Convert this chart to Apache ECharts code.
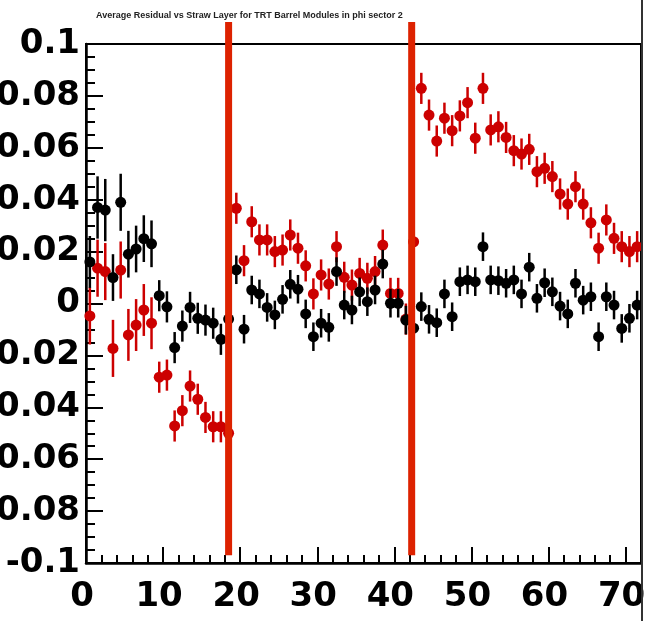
<!DOCTYPE html>
<html>
<head>
<meta charset="utf-8">
<script src="https://cdn.jsdelivr.net/npm/echarts@6/dist/echarts.min.js"></script>
<style>
html,body{margin:0;padding:0;background:#fff;}
#chart{width:646px;height:621px;}
</style>
</head>
<body>
<div id="chart"></div>
<script>
// ---- data ----
const titleText = 'Average Residual vs Straw Layer for TRT Barrel Modules in phi sector 2';
const blackValues = [
  0.016, 0.037, 0.036, 0.010, 0.039, 0.019, 0.021, 0.025, 0.023, 0.003,
  -0.0013, -0.017, -0.0087, -0.0015, -0.0057, -0.0064, -0.0076, -0.0138, -0.006, 0.013,
  -0.0099, 0.0052, 0.0037, -0.0015, -0.0044, 0.0016, 0.0074, 0.0055, -0.004, -0.0128,
  -0.0076, -0.0092, 0.0123, -0.0006, -0.0025, 0.0045, 0.0007, 0.0052, 0.0152, 0.0001,
  0.0001, -0.0064, -0.0095, -0.0012, -0.0061, -0.0074, 0.0037, -0.0051, 0.0084, 0.0091,
  0.0084, 0.0219, 0.0091, 0.0088, 0.0078, 0.0091, 0.0037, 0.014, 0.002, 0.008,
  0.0045, -0.001, -0.004, 0.0078, 0.0013, 0.0026, -0.0128, 0.0026, -0.0006, -0.0096,
  -0.0057, -0.0006
];
const blackErrors = [
  0.010, 0.012, 0.012, 0.009, 0.011, 0.009, 0.009, 0.009, 0.009, 0.006,
  0.006, 0.006, 0.006, 0.006, 0.006, 0.006, 0.006, 0.006, 0.006, 0.0055,
  0.0055, 0.0055, 0.0055, 0.0055, 0.0055, 0.0055, 0.0055, 0.0055, 0.0055, 0.0055,
  0.0055, 0.0055, 0.0055, 0.0055, 0.0055, 0.0055, 0.0055, 0.0055, 0.0055, 0.0055,
  0.0055, 0.0055, 0.0055, 0.0055, 0.0055, 0.0055, 0.0055, 0.0055, 0.0055, 0.0055,
  0.0055, 0.0055, 0.0055, 0.0055, 0.0055, 0.0055, 0.0055, 0.0055, 0.0055, 0.0055,
  0.0055, 0.0055, 0.0055, 0.0055, 0.0055, 0.0055, 0.0055, 0.0055, 0.0055, 0.0055,
  0.0055, 0.0055
];
const redValues = [
  -0.0048, 0.0136, 0.0123, -0.0173, 0.0129, -0.0121, -0.0083, -0.0025, -0.0076, -0.0284,
  -0.0276, -0.0472, -0.0413, -0.0318, -0.0369, -0.0439, -0.0475, -0.0475, -0.050, 0.0367,
  0.0165, 0.0315, 0.0245, 0.0245, 0.020, 0.0206, 0.0264, 0.0213, 0.0145, 0.0037,
  0.011, 0.0075, 0.0219, 0.0101, 0.0071, 0.0116, 0.0097, 0.0123, 0.0225, 0.0039,
  0.0039, -0.006, 0.0238, 0.0829, 0.0726, 0.0626, 0.0714, 0.0666, 0.0723, 0.0774,
  0.0637, 0.0829, 0.0669, 0.0681, 0.064, 0.0589, 0.0576, 0.0594, 0.0508, 0.0521,
  0.0489, 0.0422, 0.0383, 0.045, 0.0383, 0.0311, 0.0213, 0.0322, 0.0251, 0.0219,
  0.020, 0.0219
];
const redErrors = [
  0.011, 0.011, 0.011, 0.011, 0.011, 0.010, 0.010, 0.010, 0.010, 0.006,
  0.006, 0.006, 0.006, 0.006, 0.006, 0.006, 0.006, 0.006, 0.006, 0.006,
  0.006, 0.006, 0.006, 0.006, 0.006, 0.006, 0.006, 0.006, 0.006, 0.006,
  0.006, 0.006, 0.006, 0.006, 0.006, 0.006, 0.006, 0.006, 0.006, 0.006,
  0.006, 0.006, 0.006, 0.006, 0.006, 0.006, 0.006, 0.006, 0.006, 0.006,
  0.006, 0.006, 0.006, 0.006, 0.006, 0.006, 0.006, 0.006, 0.006, 0.006,
  0.006, 0.006, 0.006, 0.006, 0.006, 0.006, 0.006, 0.006, 0.006, 0.006,
  0.006, 0.006
];
const dividerX = [18.5, 42.25];
const dividerYRange = [-0.097, 0.1085];
const xTicks = { min: 0, max: 72, interval: 10 };
const yTicks = { min: -0.1, max: 0.1, interval: 0.02 };

// ---- build ----
function points(vals, errs) {
  return vals.map((v, i) => [i + 0.5, v, v - errs[i], v + errs[i]]);
}
function errorSeries(vals, errs, color, z) {
  return {
    type: 'custom',
    data: points(vals, errs),
    silent: true,
    z: z,
    renderItem: function (params, api) {
      const lo = api.coord([api.value(0), api.value(2)]);
      const hi = api.coord([api.value(0), api.value(3)]);
      const l = api.coord([api.value(0) - 0.5, api.value(1)]);
      const r = api.coord([api.value(0) + 0.5, api.value(1)]);
      return {
        type: 'group',
        children: [
          { type: 'line', shape: { x1: lo[0], y1: lo[1], x2: hi[0], y2: hi[1] }, style: { stroke: color, lineWidth: 2.5 } },
          { type: 'line', shape: { x1: l[0], y1: l[1], x2: r[0], y2: r[1] }, style: { stroke: color, lineWidth: 2.5 } }
        ]
      };
    }
  };
}
function markerSeries(vals, errs, color, z) {
  return {
    type: 'scatter',
    data: points(vals, errs).map(p => [p[0], p[1]]),
    symbol: 'circle',
    symbolSize: 11,
    itemStyle: { color: color, opacity: 1 },
    z: z,
    silent: true
  };
}
const dividerSeries = dividerX.map(x => ({
  type: 'line',
  data: [[x, dividerYRange[0]], [x, dividerYRange[1]]],
  symbol: 'none',
  clip: false,
  lineStyle: { color: '#dd2200', width: 7 },
  z: 10,
  silent: true
}));

const chart = echarts.init(document.getElementById('chart'), null, { renderer: 'canvas' });
chart.setOption({
  animation: false,
  backgroundColor: '#fff',
  title: {
    text: titleText,
    left: 91, top: 6,
    textStyle: { fontFamily: 'Liberation Sans', fontWeight: 'bold', fontSize: 9, color: '#222' }
  },
  grid: {
    left: 86, right: 5, top: 44, bottom: 58,
    containLabel: false, outerBoundsMode: 'none',
    show: true, borderColor: '#000', borderWidth: 2, backgroundColor: 'transparent'
  },
  xAxis: {
    type: 'value',
    min: xTicks.min, max: xTicks.max, interval: xTicks.interval,
    axisLine: { show: true, onZero: false, lineStyle: { color: '#000', width: 2.5 } },
    axisTick: { show: true, inside: true, length: 16, lineStyle: { color: '#000', width: 2 } },
    minorTick: { show: true, splitNumber: 5, length: 8, lineStyle: { color: '#000', width: 2 } },
    splitLine: { show: false },
    axisLabel: {
      show: true, margin: 17, showMaxLabel: false, hideOverlap: false,
      fontFamily: 'DejaVu Sans', fontWeight: 'bold', fontSize: 34, color: '#000',
      padding: [0, 8, 0, 0]
    }
  },
  yAxis: {
    type: 'value',
    min: yTicks.min, max: yTicks.max, interval: yTicks.interval,
    axisLine: { show: true, onZero: false, lineStyle: { color: '#000', width: 2.5 } },
    axisTick: { show: true, inside: true, length: 17, lineStyle: { color: '#000', width: 2 } },
    minorTick: { show: true, splitNumber: 4, length: 9, lineStyle: { color: '#000', width: 2 } },
    splitLine: { show: false },
    axisLabel: {
      show: true, margin: 6, hideOverlap: false,
      fontFamily: 'DejaVu Sans', fontWeight: 'bold', fontSize: 34, color: '#000',
      formatter: v => String(+v.toFixed(3))
    }
  },
  graphic: [
    { type: 'line', shape: { x1: 642, y1: 0, x2: 642, y2: 621 }, style: { stroke: '#333', lineWidth: 2 }, z: 100 }
  ],
  series: [
    errorSeries(redValues, redErrors, '#cc0000', 2),
    markerSeries(redValues, redErrors, '#cc0000', 3),
    errorSeries(blackValues, blackErrors, '#000', 4),
    markerSeries(blackValues, blackErrors, '#000', 5),
    ...dividerSeries
  ]
});
</script>
</body>
</html>
